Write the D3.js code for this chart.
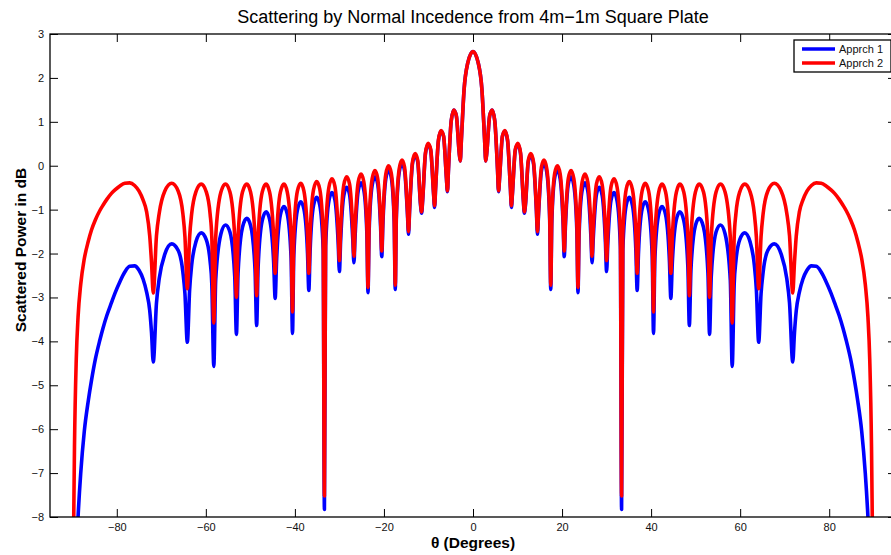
<!DOCTYPE html>
<html>
<head>
<meta charset="utf-8">
<script src="https://cdn.jsdelivr.net/npm/d3@7"></script>
<style>
  body { margin: 0; background: #fff; }
  svg { display: block; font-family: "Liberation Sans", Arial, Helvetica, sans-serif; }
  .tick text { fill: #111; font-size: 11px; }
  .tick line { stroke: #000; }
</style>
</head>
<body>
<div class="chart-div"></div>
<script>
// angles (degrees), listed lobe by lobe: null, shoulders, peak
const theta = [
  -90, -89.7, -89.5, -89.1, -88.7, -88.1, -87.3, -86.4, -85.7, -84.8, -83.8, -83.1, -82.2, -81.2, -80.4, -79.3, -78.2, -77.1, -76.0, -75.0, -74.1, -73.3, -72.6, -72.2,
  -71.81, -71.09, -70.47, -69.23, -67.67, -66.20, -65.16, -64.69,
  -64.16, -63.64, -63.19, -62.25, -61.04, -59.89, -59.04, -58.66,
  -58.21, -57.79, -56.61, -55.59, -54.59, -53.51,
  -53.13, -52.77, -51.77, -50.81, -49.95, -48.95,
  -48.59, -48.26, -47.34, -46.47, -45.68, -44.76,
  -44.43, -44.12, -43.26, -42.45, -41.71, -40.85,
  -40.54, -40.25, -39.44, -38.68, -37.97, -37.16,
  -36.87, -36.59, -35.82, -35.10, -34.42, -33.65,
  -33.37, -33.10, -32.36, -31.67, -31.01, -30.27,
  -30.00, -29.74, -29.02, -28.36, -27.72, -27.00,
  -26.74, -26.49, -25.79, -25.15, -24.53, -23.83,
  -23.58, -23.33, -22.65, -22.02, -21.42, -20.74,
  -20.49, -20.25, -19.58, -18.97, -18.37, -17.70,
  -17.46, -17.22, -16.57, -15.96, -15.37, -14.72,
  -14.48, -14.24, -13.60, -13.00, -12.42, -11.78,
  -11.54, -11.31, -10.67, -10.08, -9.50, -8.86,
  -8.63, -8.40, -7.76, -7.18, -6.61, -5.97,
  -5.74, -5.51, -4.88, -4.30, -3.73, -3.10,
  -2.87, -2.6, -2.0, -1.2,
  0,
  1.2, 2.0, 2.6, 2.87,
  3.10, 3.73, 4.30, 4.88, 5.51, 5.74,
  5.97, 6.61, 7.18, 7.76, 8.40, 8.63,
  8.86, 9.50, 10.08, 10.67, 11.31, 11.54,
  11.78, 12.42, 13.00, 13.60, 14.24, 14.48,
  14.72, 15.37, 15.96, 16.57, 17.22, 17.46,
  17.70, 18.37, 18.97, 19.58, 20.25, 20.49,
  20.74, 21.42, 22.02, 22.65, 23.33, 23.58,
  23.83, 24.53, 25.15, 25.79, 26.49, 26.74,
  27.00, 27.72, 28.36, 29.02, 29.74, 30.00,
  30.27, 31.01, 31.67, 32.36, 33.10, 33.37,
  33.65, 34.42, 35.10, 35.82, 36.59, 36.87,
  37.16, 37.97, 38.68, 39.44, 40.25, 40.54,
  40.85, 41.71, 42.45, 43.26, 44.12, 44.43,
  44.76, 45.68, 46.47, 47.34, 48.26, 48.59,
  48.95, 49.95, 50.81, 51.77, 52.77, 53.13,
  53.51, 54.59, 55.59, 56.61, 57.79, 58.21,
  58.66, 59.04, 59.89, 61.04, 62.25, 63.19, 63.64, 64.16,
  64.69, 65.16, 66.20, 67.67, 69.23, 70.47, 71.09, 71.81,
  72.2, 72.6, 73.3, 74.1, 75.0, 76.0, 77.1, 78.2, 79.3, 80.4, 81.2, 82.2, 83.1, 83.8, 84.8, 85.7, 86.4, 87.3, 88.1, 88.7, 89.1, 89.5, 89.7, 90
];

// Apprch 1 (blue)
const apprch1 = [
  -12, -11, -10.2, -8.9, -8.0, -7.0, -6.05, -5.35, -4.90, -4.40, -3.97, -3.70, -3.40, -3.12, -2.90, -2.64, -2.42, -2.29, -2.28, -2.38, -2.58, -2.88, -3.3, -3.8,
  -4.47, -3.13, -2.57, -2.02, -1.78, -1.93, -2.42, -2.92,
  -4.02, -2.82, -2.27, -1.74, -1.53, -1.69, -2.18, -2.69,
  -4.57, -2.61, -1.55, -1.35, -1.51, -2.52,
  -3.84, -2.46, -1.40, -1.20, -1.36, -2.37,
  -3.64, -2.31, -1.25, -1.05, -1.22, -2.22,
  -3.02, -2.18, -1.12, -0.93, -1.10, -2.11,
  -3.82, -2.06, -1.01, -0.82, -0.99, -2.00,
  -2.84, -1.96, -0.91, -0.72, -0.89, -1.90,
  -7.83, -1.85, -0.80, -0.61, -0.78, -1.78,
  -2.41, -1.74, -0.68, -0.49, -0.66, -1.67,
  -2.21, -1.63, -0.58, -0.39, -0.55, -1.56,
  -2.89, -1.50, -0.45, -0.25, -0.41, -1.42,
  -2.07, -1.36, -0.30, -0.10, -0.26, -1.27,
  -2.82, -1.21, -0.15, 0.05, -0.11, -1.10,
  -1.56, -1.03, 0.04, 0.24, 0.09, -0.90,
  -1.08, -0.80, 0.28, 0.49, 0.35, -0.63,
  -0.95, -0.52, 0.57, 0.79, 0.67, -0.28,
  -0.59, -0.09, 1.03, 1.27, 1.13, 0.30,
  0.11, 0.61, 1.74, 2.33,
  2.6,
  2.33, 1.74, 0.61, 0.11,
  0.30, 1.13, 1.27, 1.03, -0.09, -0.59,
  -0.28, 0.67, 0.79, 0.57, -0.52, -0.95,
  -0.63, 0.35, 0.49, 0.28, -0.80, -1.08,
  -0.90, 0.09, 0.24, 0.04, -1.03, -1.56,
  -1.10, -0.11, 0.05, -0.15, -1.21, -2.82,
  -1.27, -0.26, -0.10, -0.30, -1.36, -2.07,
  -1.42, -0.41, -0.25, -0.45, -1.50, -2.89,
  -1.56, -0.55, -0.39, -0.58, -1.63, -2.21,
  -1.67, -0.66, -0.49, -0.68, -1.74, -2.41,
  -1.78, -0.78, -0.61, -0.80, -1.85, -7.83,
  -1.90, -0.89, -0.72, -0.91, -1.96, -2.84,
  -2.00, -0.99, -0.82, -1.01, -2.06, -3.82,
  -2.11, -1.10, -0.93, -1.12, -2.18, -3.02,
  -2.22, -1.22, -1.05, -1.25, -2.31, -3.64,
  -2.37, -1.36, -1.20, -1.40, -2.46, -3.84,
  -2.52, -1.51, -1.35, -1.55, -2.61, -4.57,
  -2.69, -2.18, -1.69, -1.53, -1.74, -2.27, -2.82, -4.02,
  -2.92, -2.42, -1.93, -1.78, -2.02, -2.57, -3.13, -4.47,
  -3.8, -3.3, -2.88, -2.58, -2.38, -2.28, -2.29, -2.42, -2.64, -2.90, -3.12, -3.40, -3.70, -3.97, -4.40, -4.90, -5.35, -6.05, -7.0, -8.0, -8.9, -10.2, -11, -12
];

// Apprch 2 (red)
const apprch2 = [
  -11, -8.3, -6.4, -4.4, -3.45, -2.70, -2.12, -1.72, -1.47, -1.23, -1.02, -0.90, -0.76, -0.63, -0.55, -0.46, -0.40, -0.39, -0.45, -0.58, -0.78, -1.05, -1.6, -2.2,
  -2.90, -1.60, -1.08, -0.58, -0.40, -0.58, -1.09, -1.62,
  -2.80, -1.62, -1.10, -0.60, -0.42, -0.60, -1.10, -1.63,
  -3.58, -1.63, -0.60, -0.42, -0.60, -1.63,
  -3.00, -1.63, -0.60, -0.42, -0.60, -1.63,
  -2.96, -1.63, -0.60, -0.42, -0.60, -1.63,
  -2.45, -1.63, -0.60, -0.42, -0.60, -1.62,
  -3.33, -1.62, -0.58, -0.40, -0.58, -1.60,
  -2.45, -1.58, -0.55, -0.36, -0.53, -1.55,
  -7.52, -1.53, -0.49, -0.30, -0.47, -1.50,
  -2.16, -1.48, -0.44, -0.25, -0.42, -1.44,
  -2.06, -1.42, -0.38, -0.19, -0.36, -1.38,
  -2.77, -1.34, -0.30, -0.11, -0.28, -1.29,
  -1.94, -1.24, -0.19, 0.00, -0.16, -1.17,
  -2.72, -1.12, -0.07, 0.13, -0.03, -1.04,
  -1.50, -0.98, 0.08, 0.28, 0.13, -0.86,
  -1.05, -0.77, 0.30, 0.51, 0.37, -0.61,
  -0.91, -0.50, 0.59, 0.80, 0.68, -0.27,
  -0.57, -0.08, 1.03, 1.27, 1.13, 0.30,
  0.11, 0.61, 1.74, 2.33,
  2.6,
  2.33, 1.74, 0.61, 0.11,
  0.30, 1.13, 1.27, 1.03, -0.08, -0.57,
  -0.27, 0.68, 0.80, 0.59, -0.50, -0.91,
  -0.61, 0.37, 0.51, 0.30, -0.77, -1.05,
  -0.86, 0.13, 0.28, 0.08, -0.98, -1.50,
  -1.04, -0.03, 0.13, -0.07, -1.12, -2.72,
  -1.17, -0.16, 0.00, -0.19, -1.24, -1.94,
  -1.29, -0.28, -0.11, -0.30, -1.34, -2.77,
  -1.38, -0.36, -0.19, -0.38, -1.42, -2.06,
  -1.44, -0.42, -0.25, -0.44, -1.48, -2.16,
  -1.50, -0.47, -0.30, -0.49, -1.53, -7.52,
  -1.55, -0.53, -0.36, -0.55, -1.58, -2.45,
  -1.60, -0.58, -0.40, -0.58, -1.62, -3.33,
  -1.62, -0.60, -0.42, -0.60, -1.63, -2.45,
  -1.63, -0.60, -0.42, -0.60, -1.63, -2.96,
  -1.63, -0.60, -0.42, -0.60, -1.63, -3.00,
  -1.63, -0.60, -0.42, -0.60, -1.63, -3.58,
  -1.63, -1.10, -0.60, -0.42, -0.60, -1.10, -1.62, -2.80,
  -1.62, -1.09, -0.58, -0.40, -0.58, -1.08, -1.60, -2.90,
  -2.2, -1.6, -1.05, -0.78, -0.58, -0.45, -0.39, -0.40, -0.46, -0.55, -0.63, -0.76, -0.90, -1.02, -1.23, -1.47, -1.72, -2.12, -2.70, -3.45, -4.4, -6.4, -8.3, -11
];

const xTicks = [-80, -60, -40, -20, 0, 20, 40, 60, 80];
const yTicks = [-8, -7, -6, -5, -4, -3, -2, -1, 0, 1, 2, 3];
const seriesNames = ["Apprch 1", "Apprch 2"];
const seriesColors = ["#0000ff", "#ff0000"];

if (theta.length !== apprch1.length || theta.length !== apprch2.length) {
  console.error("length mismatch", theta.length, apprch1.length, apprch2.length);
}

// dimensions (the axes box runs a little past the right edge of the window)
const svgWidth = 891;
const svgHeight = 555;
const margin = { top: 34, left: 50 };
const width = 846;
const height = 483;

const x = d3.scaleLinear().domain([-95, 95]).range([0, width]);
const y = d3.scaleLinear().domain([-8, 3]).range([height, 0]);

const svg = d3
  .select(".chart-div")
  .append("svg")
  .attr("width", svgWidth)
  .attr("height", svgHeight);

const g = svg
  .append("g")
  .attr("transform", "translate(" + margin.left + "," + margin.top + ")");

g.append("clipPath")
  .attr("id", "plot-clip")
  .append("rect")
  .attr("width", width)
  .attr("height", height);

// the lines
const line = d3
  .line()
  .x(d => x(d[0]))
  .y(d => y(d[1]))
  .curve(d3.curveMonotoneX);

[apprch1, apprch2].forEach((vals, i) => {
  g.append("path")
    .datum(theta.map((t, j) => [t, vals[j]]))
    .attr("clip-path", "url(#plot-clip)")
    .attr("fill", "none")
    .attr("stroke", seriesColors[i])
    .attr("stroke-width", 3.6)
    .attr("stroke-linejoin", "round")
    .attr("stroke-linecap", "round")
    .attr("d", line);
});

// axes, ticks pointing inward
g.append("g")
  .attr("transform", "translate(0," + height + ")")
  .call(d3.axisBottom(x).tickValues(xTicks).tickSize(-8).tickPadding(6))
  .call(a => a.select(".domain").remove());

g.append("g")
  .call(d3.axisTop(x).tickValues(xTicks).tickSize(-8).tickFormat(""))
  .call(a => a.select(".domain").remove());

g.append("g")
  .call(d3.axisLeft(y).tickValues(yTicks).tickSize(-8).tickPadding(6))
  .call(a => a.select(".domain").remove());

g.append("g")
  .attr("transform", "translate(" + width + ",0)")
  .call(d3.axisRight(y).tickValues(yTicks).tickSize(-8).tickFormat(""))
  .call(a => a.select(".domain").remove());

g.selectAll(".tick text").attr("font-size", 11).attr("font-family", null);

g.append("rect")
  .attr("width", width)
  .attr("height", height)
  .attr("fill", "none")
  .attr("stroke", "#000")
  .attr("stroke-width", 1.3);

// title and labels
svg.append("text")
  .attr("x", margin.left + width / 2)
  .attr("y", 23)
  .attr("text-anchor", "middle")
  .attr("font-size", 18)
  .attr("fill", "#000")
  .text("Scattering by Normal Incedence from 4m\u22121m Square Plate");

svg.append("text")
  .attr("x", margin.left + width / 2)
  .attr("y", 548)
  .attr("text-anchor", "middle")
  .attr("font-size", 15.5)
  .attr("font-weight", "bold")
  .text("\u03b8 (Degrees)");

svg.append("text")
  .attr("transform", "translate(26,250) rotate(-90)")
  .attr("text-anchor", "middle")
  .attr("font-size", 15.5)
  .attr("font-weight", "bold")
  .text("Scattered Power in dB");

// legend
const legend = svg.append("g").attr("transform", "translate(794,40)");
legend.append("rect")
  .attr("width", 97)
  .attr("height", 32)
  .attr("fill", "#fff")
  .attr("stroke", "#000")
  .attr("stroke-width", 1.3);

seriesNames.forEach((name, i) => {
  legend.append("line")
    .attr("x1", 8)
    .attr("x2", 41)
    .attr("y1", 9 + i * 14)
    .attr("y2", 9 + i * 14)
    .attr("stroke", seriesColors[i])
    .attr("stroke-width", 3.6);
  legend.append("text")
    .attr("x", 45)
    .attr("y", 13 + i * 14)
    .attr("font-size", 11)
    .attr("fill", "#111")
    .text(name);
});
</script>
</body>
</html>
